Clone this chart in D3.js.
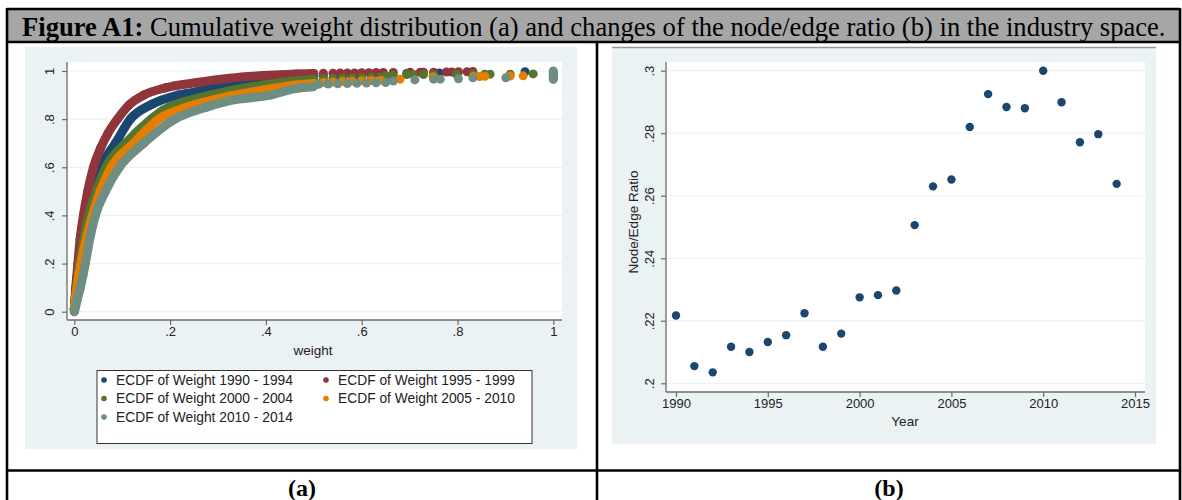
<!DOCTYPE html>
<html><head><meta charset="utf-8">
<script src="https://cdn.jsdelivr.net/npm/d3@7"></script>
<style>body{margin:0;background:#fff} svg{display:block}</style>
</head><body><svg id="c" width="1182" height="500"></svg>
<script>
// ---------- DATA ----------
const titleBold = "Figure A1:";
const titleRest = " Cumulative weight distribution (a) and changes of the node/edge ratio (b) in the industry space.";
const panelLabels = ["(a)", "(b)"];

const seriesNames = ["ECDF of Weight 1990 - 1994", "ECDF of Weight 1995 - 1999",
  "ECDF of Weight 2000 - 2004", "ECDF of Weight 2005 - 2010", "ECDF of Weight 2010 - 2014"];

// [weight, cumulative share]
const ecdf1990_1994 = [[0,.01],[.003,.08],[.008,.18],[.014,.28],[.025,.4],[.038,.5],[.055,.6],[.086,.7],[.117,.8],[.16,.86],[.217,.9],[.256,.914],[.325,.942],[.395,.96],[.464,.974],[.50,.978],
  [.52,.98],[.55,.982],[.59,.985],[.638,.988],[.694,.99],[.762,.992],[.941,.997]];
const ecdf1995_1999 = [[0,.01],[.003,.10],[.0075,.2],[.012,.3],[.019,.4],[.028,.5],[.04,.6],[.055,.68],[.07,.74],[.09,.8],[.115,.86],[.145,.9],[.19,.93],[.256,.952],[.325,.970],[.395,.981],[.464,.988],[.50,.99],
  [.52,.991],[.54,.991],[.555,.992],[.57,.992],[.585,.992],[.60,.993],[.615,.993],[.63,.994],[.645,.994],[.666,.994],[.701,.995],[.722,.995],[.729,.995],[.750,.995],[.777,.996],[.788,.996],[.802,.997],[.82,.997],[.832,.998]];
const ecdf2000_2004 = [[0,.01],[.003,.07],[.009,.17],[.017,.27],[.030,.4],[.046,.5],[.066,.6],[.107,.7],[.16,.8],[.186,.838],[.256,.887],[.325,.918],[.395,.942],[.464,.96],[.50,.965],
  [.52,.968],[.54,.970],[.56,.971],[.58,.972],[.60,.973],[.62,.974],[.64,.975],[.651,.979],[.666,.981],[.694,.985],[.708,.985],[.729,.985],[.750,.985],[.798,.986],[.833,.986],[.857,.987],[.868,.987],[.910,.987],[.958,.988]];
const ecdf2005_2010 = [[0,.01],[.003,.06],[.01,.16],[.019,.25],[.027,.32],[.038,.4],[.054,.5],[.077,.6],[.124,.7],[.176,.8],[.235,.85],[.325,.896],[.395,.921],[.464,.942],[.50,.948],
  [.52,.952],[.54,.954],[.56,.956],[.58,.958],[.60,.96],[.62,.961],[.64,.962],[.680,.966],[.749,.976],[.833,.977],[.846,.977],[.857,.978],[.910,.979],[.937,.98]];
const ecdf2010_2014 = [[0,0],[.002,.015],[.006,.05],[.0125,.1],[.018,.15],[.023,.2],[.032,.3],[.044,.4],[.065,.5],[.094,.6],[.145,.7],[.21,.8],[.276,.85],[.325,.877],[.409,.9],[.464,.928],[.499,.935],
  [.51,.945],[.53,.946],[.55,.947],[.57,.948],[.59,.949],[.61,.950],[.63,.951],[.65,.952],[.666,.958],[.711,.963],[.750,.966],[.764,.966],[.802,.968],[.832,.972],[.901,.972],
  [1,.965],[1,.97],[1,.975],[1,.98],[1,.985],[1,.99],[1,.995],[1,1]];

const weightTicks = [0, 0.2, 0.4, 0.6, 0.8, 1];
const weightTickLabels = ["0", ".2", ".4", ".6", ".8", "1"];
const ecdfTicks = [0, 0.2, 0.4, 0.6, 0.8, 1];
const ecdfTickLabels = ["0", ".2", ".4", ".6", ".8", "1"];
const xTitleA = "weight";

const years = [1990,1991,1992,1993,1994,1995,1996,1997,1998,1999,2000,2001,2002,2003,2004,2005,2006,2007,2008,2009,2010,2011,2012,2013,2014];
const nodeEdgeRatio = [.2217,.2055,.2035,.2117,.2100,.2132,.2154,.2224,.2117,.2159,.2275,.2282,.2297,.2506,.2630,.2652,.2820,.2925,.2884,.2880,.3000,.2899,.2771,.2797,.2638];
const yearTicks = [1990, 1995, 2000, 2005, 2010, 2015];
const ratioTicks = [0.2, 0.22, 0.24, 0.26, 0.28, 0.3];
const ratioTickLabels = [".2", ".22", ".24", ".26", ".28", ".3"];
const xTitleB = "Year";
const yTitleB = "Node/Edge Ratio";

// ---------- STYLE ----------
const colors = ["#1a476f", "#90353b", "#55752f", "#e37e00", "#6e8e84"];
const seriesData = [ecdf1990_1994, ecdf1995_1999, ecdf2000_2004, ecdf2005_2010, ecdf2010_2014];
const bandMax = 0.5;
const bg = "#eaf2f3", grid = "#eaf2f3", axisCol = "#6b6b6b";
const sans = "'Liberation Sans', Arial, sans-serif";
const serif = "'Liberation Serif', 'Times New Roman', serif";
const tickFs = 13, titleFs = 13.5;

const svg = d3.select("#c");

// ---------- FRAME ----------
svg.append("rect").attr("x", 7).attr("y", 9).attr("width", 1173).attr("height", 33).attr("fill", "#a6a6a6");
const t = svg.append("text").attr("x", 22).attr("y", 35.5).attr("font-family", serif).attr("font-size", 26.6).attr("fill", "#000");
t.append("tspan").attr("font-weight", "bold").text(titleBold);
t.append("tspan").text(titleRest);

// panel backgrounds
svg.append("rect").attr("x", 25).attr("y", 47).attr("width", 552).attr("height", 402).attr("fill", bg);
svg.append("rect").attr("x", 612).attr("y", 47).attr("width", 544).attr("height", 397).attr("fill", bg);
svg.append("line").attr("x1", 612).attr("x2", 1156).attr("y1", 47.5).attr("y2", 47.5).attr("stroke", "#9a9a9a").attr("stroke-width", 1.5);

// plot regions
svg.append("rect").attr("x", 67).attr("y", 62).attr("width", 495).attr("height", 258).attr("fill", "#fff");
svg.append("rect").attr("x", 666).attr("y", 62).attr("width", 479).attr("height", 330).attr("fill", "#fff");

// ---------- PANEL A ----------
const xA = d3.scaleLinear().domain([0, 1]).range([74.3, 553.3]);
const yA = d3.scaleLinear().domain([0, 1]).range([311.7, 71]);

svg.append("g").selectAll("line").data(ecdfTicks).join("line")
  .attr("x1", 67).attr("x2", 562).attr("y1", d => yA(d)).attr("y2", d => yA(d))
  .attr("stroke", grid).attr("stroke-width", 1.2);

const gA = svg.append("g");
seriesData.forEach((data, i) => {
  const band = data.filter(d => d[0] <= bandMax);
  gA.append("path").datum(band)
    .attr("d", d3.line().x(d => xA(d[0])).y(d => yA(d[1])).curve(d3.curveMonotoneX))
    .attr("fill", "none").attr("stroke", colors[i]).attr("stroke-width", 9)
    .attr("stroke-linecap", "round").attr("stroke-linejoin", "round");
  gA.append("g").selectAll("circle").data(data).join("circle")
    .attr("cx", d => xA(d[0])).attr("cy", d => yA(d[1])).attr("r", 4.5).attr("fill", colors[i]);
});

function styleAxis(g) {
  g.select(".domain").attr("stroke", axisCol).attr("stroke-width", 1.3);
  g.selectAll(".tick line").attr("stroke", axisCol).attr("stroke-width", 1.2);
  g.selectAll(".tick text").attr("font-family", sans).attr("font-size", tickFs).attr("fill", "#222");
}

const axAy = svg.append("g").attr("transform", "translate(67,0)")
  .call(d3.axisLeft(yA).tickValues(ecdfTicks).tickFormat((d, i) => ecdfTickLabels[i]).tickSize(5).tickSizeOuter(0));
axAy.select(".domain").attr("d", "M0,62V320");
styleAxis(axAy);
axAy.selectAll(".tick text").attr("transform", "rotate(-90)").attr("x", 0).attr("y", -13).attr("dy", 0).attr("text-anchor", "middle");

const axAx = svg.append("g").attr("transform", "translate(0,320)")
  .call(d3.axisBottom(xA).tickValues(weightTicks).tickFormat((d, i) => weightTickLabels[i]).tickSize(5).tickSizeOuter(0));
axAx.select(".domain").attr("d", "M67,0H562");
styleAxis(axAx);
axAx.selectAll(".tick text").attr("y", 7).attr("dy", "0.71em");

svg.append("text").attr("x", 313).attr("y", 354.5).attr("text-anchor", "middle")
  .attr("font-family", sans).attr("font-size", titleFs).attr("fill", "#222").text(xTitleA);

// legend
svg.append("rect").attr("x", 97).attr("y", 370.5).attr("width", 435).attr("height", 73)
  .attr("fill", "#fff").attr("stroke", "#333").attr("stroke-width", 1);
const legPos = [[104, 380], [326, 380], [104, 398.5], [326, 398.5], [104, 417]];
const leg = svg.append("g").selectAll("g").data(seriesNames).join("g")
  .attr("transform", (d, i) => `translate(${legPos[i][0]},${legPos[i][1]})`);
leg.append("circle").attr("r", 2.8).attr("fill", (d, i) => colors[i]);
leg.append("text").attr("x", 12).attr("dy", "0.36em").attr("font-family", sans).attr("font-size", 13.8)
  .attr("fill", "#222").text(d => d);

// ---------- PANEL B ----------
const xB = d3.scaleLinear().domain([1990, 2015]).range([676, 1135]);
const yB = d3.scaleLinear().domain([0.2, 0.3]).range([383.3, 70.7]);

svg.append("g").selectAll("line").data(ratioTicks).join("line")
  .attr("x1", 666).attr("x2", 1145).attr("y1", d => yB(d)).attr("y2", d => yB(d))
  .attr("stroke", grid).attr("stroke-width", 1.2);

svg.append("g").selectAll("circle").data(years).join("circle")
  .attr("cx", d => xB(d)).attr("cy", (d, i) => yB(nodeEdgeRatio[i])).attr("r", 4.2).attr("fill", colors[0]);

const axBy = svg.append("g").attr("transform", "translate(666,0)")
  .call(d3.axisLeft(yB).tickValues(ratioTicks).tickFormat((d, i) => ratioTickLabels[i]).tickSize(5).tickSizeOuter(0));
axBy.select(".domain").attr("d", "M0,62V392");
styleAxis(axBy);
axBy.selectAll(".tick text").attr("transform", "rotate(-90)").attr("x", 0).attr("y", -12).attr("dy", 0).attr("text-anchor", "middle");

const axBx = svg.append("g").attr("transform", "translate(0,392)")
  .call(d3.axisBottom(xB).tickValues(yearTicks).tickFormat(d3.format("d")).tickSize(5).tickSizeOuter(0));
axBx.select(".domain").attr("d", "M666,0H1145");
styleAxis(axBx);
axBx.selectAll(".tick text").attr("y", 7).attr("dy", "0.71em");

svg.append("text").attr("x", 905).attr("y", 426).attr("text-anchor", "middle")
  .attr("font-family", sans).attr("font-size", titleFs).attr("fill", "#222").text(xTitleB);
svg.append("text").attr("transform", "translate(638,222) rotate(-90)").attr("text-anchor", "middle")
  .attr("font-family", sans).attr("font-size", titleFs).attr("fill", "#222").text(yTitleB);

// ---------- TABLE BORDERS & PANEL LABELS ----------
const bw = 2.6;
[[7, 9, 1180, 9], [7, 42, 1180, 42], [7, 470.5, 1180, 470.5], [7, 8, 7, 500], [1180, 8, 1180, 500], [597, 42, 597, 500]]
  .forEach(l => svg.append("line").attr("x1", l[0]).attr("y1", l[1]).attr("x2", l[2]).attr("y2", l[3])
    .attr("stroke", "#000").attr("stroke-width", bw));

svg.append("g").selectAll("text").data(panelLabels).join("text")
  .attr("x", (d, i) => i === 0 ? 302 : 889).attr("y", 496).attr("text-anchor", "middle")
  .attr("font-family", serif).attr("font-weight", "bold").attr("font-size", 24).attr("fill", "#000").text(d => d);
</script></body></html>
